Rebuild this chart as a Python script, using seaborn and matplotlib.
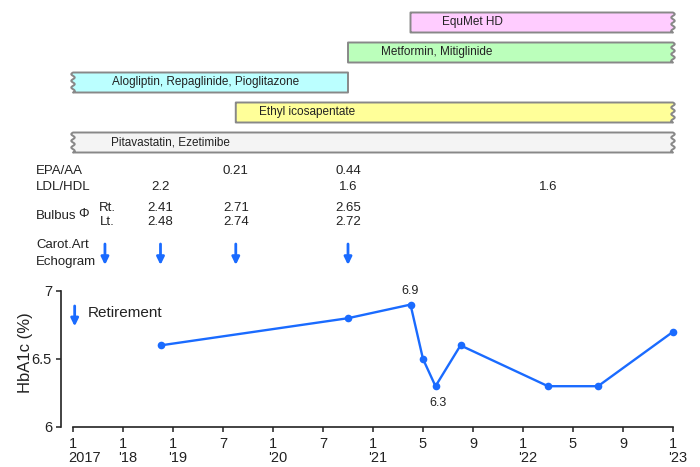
import numpy as np
import pandas as pd
import matplotlib
matplotlib.use("Agg")
import matplotlib.pyplot as plt
import seaborn as sns

# ---------------- data ----------------
tick_dates = ["2017-01", "2018-01", "2019-01", "2019-07", "2020-01", "2020-07",
              "2021-01", "2021-05", "2021-09", "2022-01", "2022-05", "2022-09", "2023-01"]
tick_month_labels = ["1", "1", "1", "7", "1", "7", "1", "5", "9", "1", "5", "9", "1"]
tick_year_labels = ["2017", "'18", "'19", "", "'20", "", "'21", "", "", "'22", "", "", "'23"]

hba1c_dates = ["2018-10", "2020-10", "2021-04", "2021-05", "2021-06", "2021-08",
               "2022-03", "2022-07", "2023-01"]
hba1c_values = [6.6, 6.8, 6.9, 6.5, 6.3, 6.6, 6.3, 6.3, 6.7]
hba1c_labelled_max = 6.9
hba1c_labelled_min = 6.3

drug_names = ["EquMet HD", "Metformin, Mitiglinide", "Alogliptin, Repaglinide, Pioglitazone",
              "Ethyl icosapentate", "Pitavastatin, Ezetimibe"]
drug_start = ["2021-04", "2020-10", "2017-01", "2019-08-17", "2017-01"]
drug_end = ["2023-01", "2023-01", "2020-10", "2023-01", "2023-01"]
drug_before = [False, False, True, False, True]   # started before the shown period
drug_after = [True, True, False, True, True]      # continues after the shown period
drug_colors = ["#ffccff", "#bbffbb", "#bbffff", "#ffff99", "#f4f4f4"]

echo_dates = ["2017-08-21", "2018-10", "2019-08-17", "2020-10"]
epa_aa_dates = ["2019-08-17", "2020-10"]
epa_aa_values = ["0.21", "0.44"]
ldl_hdl_dates = ["2018-10", "2020-10", "2022-03"]
ldl_hdl_values = ["2.2", "1.6", "1.6"]
bulbus_dates = ["2018-10", "2019-08-17", "2020-10"]
bulbus_rt = ["2.41", "2.71", "2.65"]
bulbus_lt = ["2.48", "2.74", "2.72"]
retirement_date = "2017-01-13"

# ---------------- helpers ----------------
def to_month(s):
    parts = [int(p) for p in s.split("-")]
    y, m = parts[0], parts[1]
    d = parts[2] if len(parts) > 2 else 1
    return (y - 2017) * 12 + (m - 1) + (d - 1) / 30.0

tick_m = np.array([to_month(s) for s in tick_dates])
tick_idx = np.arange(len(tick_m), dtype=float)

def pos(s):
    return float(np.interp(to_month(s), tick_m, tick_idx))

BLUE = "#1a6bff"
TXT = "#222222"
W, H = 700, 467

sns.set_style("ticks")
plt.rcParams["font.family"] = ["Liberation Sans", "DejaVu Sans"]
plt.rcParams["text.color"] = TXT

fig = plt.figure(figsize=(7.0, 4.67), dpi=100)

# x mapping: position 0 -> 73 px, 50 px per tick step
left_px, right_px = 61, 680
xlim = ((left_px - 73) / 50.0, (right_px - 73) / 50.0)

ARROW = dict(arrowstyle="-|>,head_length=0.45,head_width=0.22",
             color=BLUE, lw=2.0, shrinkA=0, shrinkB=0)

# ---------------- main HbA1c axes ----------------
ax = fig.add_axes([left_px / W, (H - 427) / H, (right_px - left_px) / W, (427 - 291) / H])
df = pd.DataFrame({"pos": [pos(d) for d in hba1c_dates], "HbA1c": hba1c_values})
sns.lineplot(data=df, x="pos", y="HbA1c", ax=ax, color=BLUE, lw=1.7, marker="o",
             markersize=5.5, markeredgecolor=BLUE, markeredgewidth=0, clip_on=False)
ax.set_xlim(*xlim)
ax.set_ylim(6, 7)
ax.set_yticks([6, 6.5, 7])
ax.set_yticklabels(["6", "6.5", "7"])
ax.set_xticks(tick_idx)
ax.set_xticklabels(tick_month_labels)
for s in ["top", "right"]:
    ax.spines[s].set_visible(False)
for s in ["left", "bottom"]:
    ax.spines[s].set_linewidth(1.2)
    ax.spines[s].set_color(TXT)
ax.spines["left"].set_bounds(6, 7)
ax.spines["bottom"].set_bounds(tick_idx[0], tick_idx[-1])
ax.tick_params(axis="both", direction="out", length=3.5, width=1.1, color=TXT,
               labelsize=10.5, labelcolor=TXT)
ax.tick_params(axis="x", pad=3.5)
ax.tick_params(axis="y", pad=3)
ax.set_xlabel("")
ax.set_ylabel("HbA1c (%)", fontsize=12, color=TXT)
ax.yaxis.set_label_coords(-0.045, 0.544)

# year labels under month ticks
for i, yl in enumerate(tick_year_labels):
    if yl:
        ax.annotate(yl, xy=(tick_idx[i], 0), xycoords=("data", "axes fraction"),
                    xytext=(-3.6, -17.5), textcoords="offset points", ha="left", va="top",
                    fontsize=10.5, color=TXT, annotation_clip=False)

# value labels for max / min
i_max = hba1c_values.index(hba1c_labelled_max)
ax.annotate(f"{hba1c_labelled_max:g}", xy=(df.pos[i_max], hba1c_values[i_max]),
            xytext=(0, 5.5), textcoords="offset points", ha="center", va="bottom",
            fontsize=9, color=TXT)
i_min = hba1c_values.index(hba1c_labelled_min)
ax.annotate(f"{hba1c_labelled_min:g}", xy=(df.pos[i_min], hba1c_values[i_min]),
            xytext=(1.5, -7.5), textcoords="offset points", ha="center", va="top",
            fontsize=9, color=TXT)

# retirement arrow
rp = pos(retirement_date)
ax.annotate("", xy=(rp, 6.74), xytext=(rp, 6.89), arrowprops=ARROW, annotation_clip=False)
ax.annotate("Retirement", xy=(rp, 6.84), xytext=(9.5, 0), textcoords="offset points",
            ha="left", va="center", fontsize=11, color=TXT)

# ---------------- top axes: drugs and findings ----------------
top_h = 280
tax = fig.add_axes([left_px / W, (H - top_h) / H, (right_px - left_px) / W, top_h / H])
tax.set_xlim(*xlim)
tax.set_ylim(top_h, 0)
tax.axis("off")

row0, row_step, bar_h = 22.5, 30.0, 20.0
label_offsets_px = [32, 33, 39, 23, 38]
amp, periods = 0.035, 3

def edge(xc, y_from, y_to, wavy):
    t = np.linspace(0, 1, 40)
    ys = y_from + (y_to - y_from) * t
    if wavy:
        xs = xc + amp * np.sin(2 * np.pi * periods * t)
    else:
        xs = np.full_like(t, xc)
    return xs, ys

for i, name in enumerate(drug_names):
    yc = row0 + i * row_step
    y0, y1 = yc - bar_h / 2, yc + bar_h / 2
    xl, xr = pos(drug_start[i]), pos(drug_end[i])
    lx, ly = edge(xl, y1, y0, drug_before[i])
    rx, ry = edge(xr, y0, y1, drug_after[i])
    xs = np.concatenate([lx, rx])
    ys = np.concatenate([ly, ry])
    tax.fill(xs, ys, facecolor=drug_colors[i], edgecolor="#888888", lw=1.4, joinstyle="round")
    tax.annotate(name, xy=(xl, yc), xytext=(label_offsets_px[i] * 0.72, 0),
                 textcoords="offset points", ha="left", va="center", fontsize=8.5,
                 color=TXT)

def ftxt(x, y, s, **kw):
    fig.text(x / W, 1 - y / H, s, **kw)

fs = 9.5
ftxt(36, 171, "EPA/AA", ha="left", va="center", fontsize=fs)
ftxt(36, 187, "LDL/HDL", ha="left", va="center", fontsize=fs)
ftxt(36, 216, "Bulbus", ha="left", va="center", fontsize=fs)
ftxt(78, 214, "Φ", ha="left", va="center", fontsize=fs)
ftxt(107, 208, "Rt.", ha="center", va="center", fontsize=fs)
ftxt(107, 222, "Lt.", ha="center", va="center", fontsize=fs)
ftxt(36, 245, "Carot.Art", ha="left", va="center", fontsize=fs)
ftxt(36, 262, "Echogram", ha="left", va="center", fontsize=fs)

for d, v in zip(epa_aa_dates, epa_aa_values):
    tax.text(pos(d), 171, v, ha="center", va="center", fontsize=fs)
for d, v in zip(ldl_hdl_dates, ldl_hdl_values):
    tax.text(pos(d), 187, v, ha="center", va="center", fontsize=fs)
for d, r, l in zip(bulbus_dates, bulbus_rt, bulbus_lt):
    tax.text(pos(d), 208, r, ha="center", va="center", fontsize=fs)
    tax.text(pos(d), 222, l, ha="center", va="center", fontsize=fs)
for d in echo_dates:
    tax.annotate("", xy=(pos(d), 265), xytext=(pos(d), 244), arrowprops=ARROW)

fig.savefig("out.png", dpi=100)
